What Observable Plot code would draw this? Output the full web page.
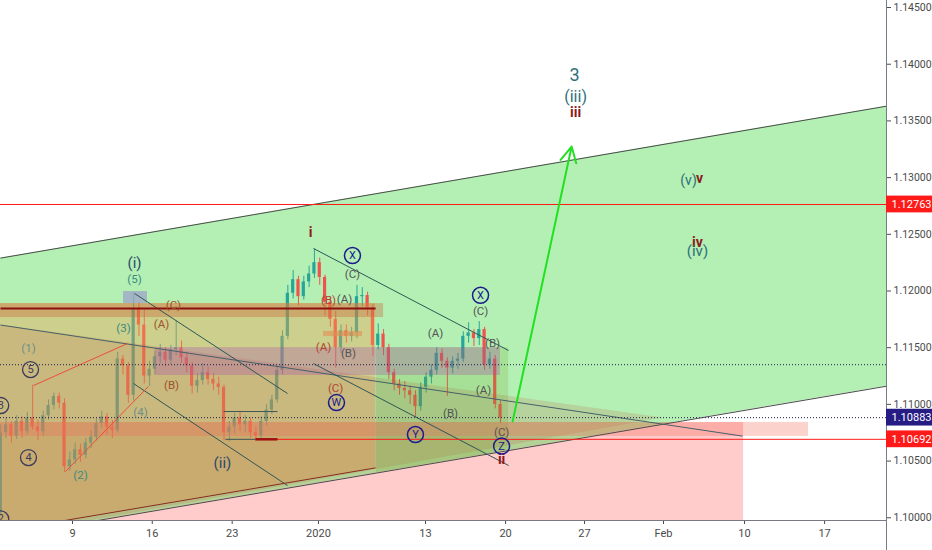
<!DOCTYPE html>
<html>
<head>
<meta charset="utf-8">
<script src="https://cdn.jsdelivr.net/npm/d3@7"></script>
<script src="https://cdn.jsdelivr.net/npm/@observablehq/plot@0.6"></script>
<style>
  html, body { margin: 0; padding: 0; background: #fff; }
  #chart { width: 932px; height: 550px; overflow: hidden; }
</style>
</head>
<body>
<div id="chart"></div>
<script>
// ---------- axis ticks ----------
const dateTickPos = [0, 5.0, 10.01, 15.42, 22.13, 27.15, 32.10, 37.05, 42.13, 47.15];
const dateTickLabels = ["9", "16", "23", "2020", "13", "20", "27", "Feb", "10", "17"];
const priceTicks = [1.100, 1.105, 1.110, 1.115, 1.120, 1.125, 1.130, 1.135, 1.140, 1.145];

// ---------- EURUSD candles (session index units) ----------
const firstBar = -4.5;
const firstOpen = 1.1005;
const closes = [1.1075,1.1082,1.1072,1.1085,1.1076,1.1088,1.1080,1.1076,1.1090,1.1099,
  1.1107,1.1101,1.1045,1.1051,1.1060,1.1055,1.1066,1.1071,1.1083,1.1089,
  1.1080,1.1077,1.1140,1.1134,1.1108,1.1184,1.1170,1.1125,1.1131,1.1142,
  1.1146,1.1139,1.1148,1.1150,1.1141,1.1134,1.1116,1.1121,1.1128,1.1122,
  1.1118,1.1115,1.1075,1.1080,1.1088,1.1082,1.1085,1.1075,1.1072,1.1085,
  1.1095,1.1104,1.1130,1.1160,1.1198,1.1210,1.1195,1.1208,1.1215,1.1225,
  1.1212,1.1190,1.1175,1.1150,1.1165,1.1160,1.1163,1.1195,1.1196,1.1185,
  1.1152,1.1162,1.1150,1.1128,1.1118,1.1114,1.1112,1.1108,1.1098,1.1115,
  1.1124,1.1130,1.1145,1.1138,1.1132,1.1138,1.1140,1.1160,1.1163,1.1158,
  1.1166,1.1135,1.1140,1.1100,1.1088];
const highs = [1.1082,1.1088,1.1085,1.1090,1.1089,1.1093,1.1117,1.1086,1.1094,1.1104,
  1.1110,1.1110,1.1105,1.1058,1.1066,1.1065,1.1070,1.1077,1.1087,1.1094,
  1.1092,1.1086,1.1146,1.1143,1.1137,1.1198,1.1190,1.1184,1.1138,1.1147,
  1.1153,1.1150,1.1152,1.1174,1.1156,1.1146,1.1137,1.1127,1.1136,1.1133,
  1.1127,1.1124,1.1117,1.1085,1.1092,1.1094,1.1090,1.1088,1.1080,1.1089,
  1.1100,1.1108,1.1134,1.1165,1.1205,1.1218,1.1213,1.1213,1.1222,1.1237,
  1.1229,1.1214,1.1194,1.1182,1.1170,1.1170,1.1168,1.1205,1.1203,1.1199,
  1.1188,1.1171,1.1166,1.1153,1.1131,1.1122,1.1120,1.1116,1.1112,1.1119,
  1.1128,1.1135,1.1150,1.1149,1.1141,1.1142,1.1145,1.1164,1.1172,1.1166,
  1.1173,1.1168,1.1146,1.1143,1.1103];
const lows = [1.1001,1.1070,1.1066,1.1069,1.1070,1.1073,1.1077,1.1068,1.1072,1.1086,
  1.1095,1.1096,1.1040,1.1041,1.1047,1.1049,1.1052,1.1061,1.1068,1.1079,
  1.1073,1.1070,1.1075,1.1126,1.1101,1.1103,1.1160,1.1118,1.1116,1.1126,
  1.1136,1.1133,1.1135,1.1143,1.1136,1.1128,1.1109,1.1110,1.1117,1.1117,
  1.1112,1.1108,1.1068,1.1067,1.1074,1.1076,1.1075,1.1070,1.1067,1.1069,
  1.1081,1.1091,1.1101,1.1126,1.1157,1.1193,1.1187,1.1192,1.1203,1.1211,
  1.1205,1.1178,1.1168,1.1132,1.1145,1.1154,1.1155,1.1158,1.1186,1.1178,
  1.1142,1.1148,1.1143,1.1122,1.1112,1.1108,1.1105,1.1100,1.1088,1.1094,
  1.1110,1.1118,1.1126,1.1132,1.1107,1.1127,1.1131,1.1137,1.1154,1.1151,
  1.1152,1.1130,1.1131,1.1096,1.1083];

// ---------- drawing anchors (session index, price) ----------
const channelPts = [{u: -4.514, lo: 1.0983, hi: 1.1229}, {u: 51.03, lo: 1.1116, hi: 1.1363}];
const trianglePts = [{u: -4.514, lo: 1.0983, hi: 1.1170}, {u: 37.05, lo: 1.1088, hi: 1.1088}];
const tanPts = [{u: -4.514, lo: 1.0988, hi: 1.11889}, {u: 19.0, lo: 1.1044, hi: 1.11889}];
const greenZonePts = [{u: 19.06, lo: 1.10394, hi: 1.1150}, {u: 27.34, lo: 1.10593, hi: 1.1150}];
const pinkZone = [{u1: -4.514, u2: 42.07, p1: 1.0960, p2: 1.1084}];
const pinkBar = [{u1: -4.514, u2: 46.14, p1: 1.10717, p2: 1.10840}];
const brownBand = [{u1: -4.514, u2: 19.5, p1: 1.11766, p2: 1.11889}];
const purpleBox = [{u1: 5.20, u2: 26.83, p1: 1.11255, p2: 1.11501}];
const smallBar = [{u1: 15.74, u2: 18.18, p1: 1.11598, p2: 1.11643}];
const grayBox = [{u1: 3.20, u2: 4.70, p1: 1.11889, p2: 1.11995}];

const channelEdges = [
  {u1: -4.514, p1: 1.1229, u2: 51.03, p2: 1.1363},
  {u1: -4.514, p1: 1.0983, u2: 51.03, p2: 1.1116}];
const triangleTop = [{u1: -4.514, p1: 1.1170, u2: 42.01, p2: 1.1072}];
const downChannels = [
  {u1: 3.89, p1: 1.11978, u2: 13.48, p2: 1.11096},
  {u1: 3.82, p1: 1.11184, u2: 13.48, p2: 1.10284},
  {u1: 15.11, p1: 1.12375, u2: 27.34, p2: 1.11475},
  {u1: 15.11, p1: 1.11360, u2: 27.34, p2: 1.10461}];
const brownLine = [{u1: -4.514, p1: 1.0988, u2: 19.0, p2: 1.1044}];
const wedgeLines = [
  {u1: -2.45, p1: 1.11166, u2: 3.45, p2: 1.11537},
  {u1: -0.44, p1: 1.10408, u2: 4.76, p2: 1.11158}];
const boxLines = [
  {u1: 9.47, p1: 1.10937, u2: 12.85, p2: 1.10937},
  {u1: 9.59, p1: 1.10692, u2: 11.47, p2: 1.10692}];
const boxBase = [{u1: 11.47, p1: 1.10692, u2: 12.85, p2: 1.10692}];
const darkRedLine = [{u1: -4.514, p1: 1.11846, u2: 19.0, p2: 1.11846}];
const redRay = [{u1: 11.47, p1: 1.10692, u2: 51.03, p2: 1.10692}];
const redLevel = [1.12763];
const dottedLevels = [1.1135, 1.10883];
const projection = [{u1: 27.59, p1: 1.10849, u2: 31.29, p2: 1.13274}];

const priceTags = [
  {p: 1.12763, fill: "#ff1a1a"},
  {p: 1.10883, fill: "#261c84"},
  {p: 1.10692, fill: "#ff1a1a"}];

// ---------- wave labels ----------
const tealSmall = [{u: 3.89, p: 1.12101, t: "(5)"}, {u: 3.20, p: 1.11669, t: "(3)"}, {u: 0.50, p: 1.10373, t: "(2)"}];
const grayTeal = [{u: -2.76, p: 1.11493, t: "(1)"}, {u: 4.26, p: 1.10928, t: "(4)"}];
const brownLbl = [{u: 5.58, p: 1.11704, t: "(A)"}, {u: 6.33, p: 1.11872, t: "(C)"}, {u: 6.21, p: 1.11166, t: "(B)"}];
const redBrownLbl = [{u: 16.05, p: 1.11916, t: "(B)"}, {u: 15.74, p: 1.11501, t: "(A)"}, {u: 16.49, p: 1.11140, t: "(C)"}];
const grayLbl = [
  {u: 17.05, p: 1.11925, t: "(A)"}, {u: 17.30, p: 1.11449, t: "(B)"}, {u: 17.55, p: 1.12148, t: "(C)"},
  {u: 22.76, p: 1.11625, t: "(A)"}, {u: 25.58, p: 1.11822, t: "(C)"}, {u: 26.33, p: 1.11537, t: "(B)"},
  {u: 25.77, p: 1.11122, t: "(A)"}, {u: 23.70, p: 1.10919, t: "(B)"}, {u: 26.90, p: 1.10755, t: "(C)"}];
const navyWave = [{u: 3.89, p: 1.12242, t: "(i)"}, {u: 9.40, p: 1.10478, t: "(ii)"}];
const redWave = [
  {u: 14.92, p: 1.12516, t: "i"}, {u: 26.90, p: 1.10518, t: "ii"}, {u: 31.54, p: 1.13574, t: "iii"},
  {u: 39.31, p: 1.12992, t: "v"}, {u: 39.18, p: 1.12428, t: "iv"}];
const tealWave = [
  {u: 31.47, p: 1.13901, t: "3", s: 18}, {u: 31.54, p: 1.13715, t: "(iii)", s: 16},
  {u: 38.62, p: 1.12974, t: "(v)", s: 14}, {u: 39.18, p: 1.12348, t: "(iv)", s: 15}];
const grayCircles = [
  {u: -2.63, p: 1.11307, t: "5"}, {u: -2.76, p: 1.10531, t: "4"},
  {u: -4.50, p: 1.10990, t: "3"}, {u: -4.50, p: 1.09990, t: "2"}];
const navyCircles = [
  {u: 17.55, p: 1.12313, t: "X"}, {u: 16.55, p: 1.11016, t: "W"}, {u: 25.58, p: 1.11962, t: "X"},
  {u: 21.50, p: 1.10734, t: "Y"}, {u: 26.90, p: 1.10632, t: "Z"}];

// ---------- build ----------
const xMin = -4.514, xMax = 51.03, xFar = 53.92;
const yMin = 1.09976, yMax = 1.14562, yFloor = 1.09711;

const bars = closes.map((c, i) => ({
  u: firstBar + i / 3,
  o: i === 0 ? firstOpen : closes[i - 1],
  c, h: highs[i], l: lows[i]
}));
const candleColor = d => d.c >= d.o ? "#26a69a" : "#ef5350";

const font = "Roboto, 'Liberation Sans', sans-serif";
const seg = (data, opts) => Plot.link(data, {x1: "u1", y1: "p1", x2: "u2", y2: "p2", clip: true, ...opts});
const box = (data, opts) => Plot.rect(data, {x1: "u1", x2: "u2", y1: "p1", y2: "p2", clip: true, ...opts});
const lbl = (data, fill, size, extra = {}) => Plot.text(data, {x: "u", y: "p", text: "t", fill, fontSize: size, ...extra});

const marks = [
  box(pinkZone, {fill: "#ff5252", fillOpacity: 0.3}),
  Plot.areaY(channelPts, {x: "u", y1: "lo", y2: "hi", fill: "#4ddb4d", fillOpacity: 0.42, clip: true}),
  // candles
  Plot.ruleX(bars, {x: "u", y1: "l", y2: "h", stroke: candleColor, strokeWidth: 1}),
  Plot.rect(bars, {x1: d => d.u - 0.1, x2: d => d.u + 0.1, y1: "o", y2: "c", fill: candleColor}),
  // translucent zones
  Plot.areaY(tanPts, {x: "u", y1: "lo", y2: "hi", fill: "#f0a050", fillOpacity: 0.4, clip: true}),
  Plot.areaY(trianglePts, {x: "u", y1: "lo", y2: "hi", fill: "#c06048", fillOpacity: 0.2, clip: true}),
  Plot.areaY(greenZonePts, {x: "u", y1: "lo", y2: "hi", fill: "#6fa020", fillOpacity: 0.2, clip: true}),
  box(brownBand, {fill: "#c86030", fillOpacity: 0.35}),
  box(pinkBar, {fill: "#f56a5a", fillOpacity: 0.3}),
  box(purpleBox, {fill: "#a848b0", fillOpacity: 0.3}),
  box(smallBar, {fill: "#e09050", fillOpacity: 0.6}),
  box(grayBox, {fill: "#a0a6c8", fillOpacity: 0.8}),
  // lines
  seg(channelEdges, {stroke: "#4a4a4a", strokeWidth: 1}),
  seg(triangleTop, {stroke: "#46606a", strokeWidth: 1}),
  seg(downChannels, {stroke: "#2f5656", strokeWidth: 1}),
  seg(brownLine, {stroke: "#8b2a1a", strokeWidth: 1}),
  seg(wedgeLines, {stroke: "#e8503a", strokeWidth: 1}),
  seg(boxLines, {stroke: "#3f5656", strokeWidth: 1}),
  seg(darkRedLine, {stroke: "#8b1010", strokeWidth: 2}),
  seg(redRay, {stroke: "#ff1a1a", strokeWidth: 1}),
  seg(boxBase, {stroke: "#a01010", strokeWidth: 2.5}),
  Plot.ruleY(redLevel, {stroke: "#ff1a1a", strokeWidth: 1}),
  Plot.ruleY(dottedLevels, {stroke: "#1d1d4a", strokeWidth: 1, strokeDasharray: "1,2"}),
  Plot.arrow(projection, {x1: "u1", y1: "p1", x2: "u2", y2: "p2", stroke: "#22e022", strokeWidth: 2, headLength: 13, headAngle: 55}),
  // labels
  lbl(tealSmall, "#3b8a80", 11.5),
  lbl(grayTeal, "#6f8f8a", 11.5),
  lbl(brownLbl, "#a0522d", 11.5),
  lbl(redBrownLbl, "#b0452f", 11.5),
  lbl(grayLbl, "#555555", 11.5),
  lbl(navyWave, "#2a4a6c", 15),
  lbl(redWave, "#8b1a1a", 14, {fontWeight: "bold"}),
  Plot.text(tealWave, {x: "u", y: "p", text: "t", fill: "#2f6f7a", fontSize: d => d.s}),
  Plot.dot(grayCircles, {x: "u", y: "p", r: 8, stroke: "#3b3b5e", strokeWidth: 1.3, fill: "none", clip: true}),
  lbl(grayCircles, "#3b3b5e", 11, {clip: true}),
  Plot.dot(navyCircles, {x: "u", y: "p", r: 8, stroke: "#1b1b8c", strokeWidth: 1.5, fill: "none"}),
  lbl(navyCircles, "#1b1b8c", 11),
  // axes
  Plot.axisY({anchor: "right", ticks: priceTicks, tickFormat: d => d.toFixed(5), tickSize: 4, tickPadding: 3, fontSize: 10.5, label: null}),
  Plot.axisX({ticks: dateTickPos, tickFormat: d => dateTickLabels[dateTickPos.indexOf(d)], tickSize: 4, tickPadding: 5, fontSize: 11, label: null}),
  Plot.ruleX([xMax], {y1: yFloor, y2: yMax, stroke: "#787b86", strokeWidth: 1}),
  Plot.ruleY([yMin], {stroke: "#787b86", strokeWidth: 1}),
];

for (const tag of priceTags) {
  marks.push(Plot.rect([tag], {x1: xMax, x2: xFar, y1: d => d.p - 0.00074, y2: d => d.p + 0.00074, fill: tag.fill}));
  marks.push(Plot.text([tag], {x: xMax, y: "p", text: d => d.p.toFixed(5), fill: "white", fontSize: 11, textAnchor: "start", dx: 5}));
}

const chart = Plot.plot({
  width: 932,
  height: 550,
  marginLeft: 0,
  marginRight: 46,
  marginTop: 0,
  marginBottom: 30,
  style: {fontFamily: font, background: "#fff", color: "#4a4a4a", overflow: "visible"},
  x: {domain: [xMin, xMax]},
  y: {domain: [yMin, yMax]},
  marks
});
document.getElementById("chart").appendChild(chart);
</script>
</body>
</html>
